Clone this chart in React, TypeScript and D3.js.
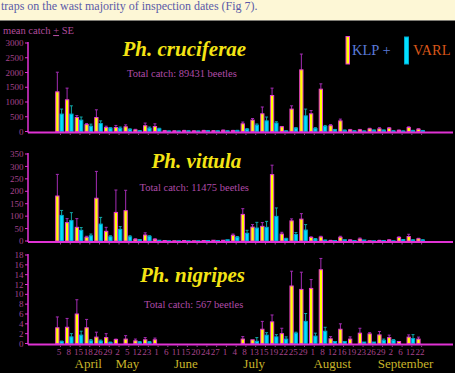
import React, { useRef, useEffect } from 'react';
import * as d3 from 'd3';

// inspection dates (category keys) and their tick labels
const dates = [
  'Apr 5', 'Apr 8', 'Apr 15', 'Apr 18', 'Apr 26', 'Apr 29',
  'May 2', 'May 5', 'May 12', 'May 23',
  'Jun 1', 'Jun 6', 'Jun 11', 'Jun 15', 'Jun 20', 'Jun 24', 'Jun 27',
  'Jul 1', 'Jul 4', 'Jul 8', 'Jul 13', 'Jul 15', 'Jul 19', 'Jul 22', 'Jul 25', 'Jul 29',
  'Aug 1', 'Aug 8', 'Aug 12', 'Aug 16', 'Aug 19', 'Aug 23', 'Aug 26', 'Aug 29',
  'Sep 2', 'Sep 6', 'Sep 12', 'Sep 22'
];
const dayLabels = dates.map(d => d.split(' ')[1]);

const months = ['April', 'May', 'June', 'July', 'August', 'September'];
const monthAnchors = [['Apr 18', 'Apr 18'], ['May 5', 'May 5'], ['Jun 15', 'Jun 15'], ['Jul 13', 'Jul 13'], ['Aug 12', 'Aug 12'], ['Sep 6', 'Sep 12']];

// Ph. cruciferae
const crucKlp = [1345, 1075, 475, 235, 475, 135, 135, 160, 55, 195, 170, 25, 20, 30, 20, 30, 25, 40, 30, 260, 385, 600, 1220, 160, 760, 2090, 600, 1435, 195, 360, 55, 55, 90, 90, 115, 40, 135, 80];
const crucKlpSe = [665, 395, 65, 35, 260, 45, 70, 65, 20, 90, 90, 10, 5, 10, 5, 10, 5, 10, 10, 60, 55, 230, 250, 10, 110, 535, 110, 180, 40, 60, 15, 15, 20, 40, 20, 10, 25, 15];
const crucVarl = [590, 590, 385, 180, 270, 115, 110, 75, 25, 110, 90, 15, 15, 20, 15, 25, 20, 20, 35, 80, 215, 360, 285, 20, 115, 530, 100, 170, 60, 40, 20, 15, 45, 45, 20, 15, 30, 30];
const crucVarlSe = [170, 280, 105, 70, 90, 15, 40, 15, 5, 40, 20, 5, 5, 5, 5, 5, 5, 5, 5, 15, 40, 130, 45, 5, 15, 230, 30, 35, 10, 10, 5, 5, 5, 5, 5, 5, 10, 5];

// Ph. vittula
const vittKlp = [181, 74, 55, 15, 172, 39, 115, 122, 7, 24, 7, 2, 1, 2, 1, 2, 3, 3, 23, 107, 56, 59, 267, 28, 81, 88, 14, 16, 2, 15, 4, 8, 1, 2, 4, 14, 18, 9];
const vittKlpSe = [87, 16, 35, 4, 108, 16, 90, 82, 2, 9, 2, 0, 0, 0, 0, 0, 0, 0, 5, 23, 10, 15, 38, 7, 8, 22, 3, 3, 1, 4, 1, 4, 0, 1, 1, 3, 9, 2];
const vittVarl = [103, 82, 43, 21, 68, 17, 47, 17, 5, 19, 3, 1, 1, 1, 1, 2, 2, 5, 15, 31, 52, 55, 99, 9, 26, 44, 8, 3, 2, 5, 2, 4, 1, 2, 1, 5, 4, 4];
const vittVarlSe = [20, 32, 11, 7, 27, 4, 11, 4, 1, 2, 0, 0, 0, 0, 0, 0, 0, 0, 3, 12, 23, 24, 34, 2, 8, 22, 2, 1, 0, 0, 0, 0, 0, 0, 0, 1, 1, 1];

// Ph. nigripes
const nigrKlp = [3.2, 3.3, 6.0, 3.2, 1.3, 1.2, 0.8, 0.9, 0.55, 0.75, 0.75, 0, 0, 0, 0, 0, 0, 0, 0, 0.9, 0.75, 2.9, 4.4, 2.0, 11.7, 11.0, 11.2, 15.0, 0.95, 2.9, 0.9, 2.1, 1.95, 1.75, 1.2, 0.4, 1.3, 0.9];
const nigrKlpSe = [2.2, 1.8, 2.9, 1.7, 1.0, 0.8, 0.1, 0.7, 0.35, 0.45, 0.35, 0, 0, 0, 0, 0, 0, 0, 0, 0.5, 0, 1.6, 1.4, 1.1, 3.0, 3.5, 1.8, 2.3, 0.45, 1.1, 0.45, 1.0, 0.25, 0.7, 0.5, 0, 0.45, 0.4];
const nigrVarl = [0.4, 1.35, 1.7, 0.55, 0.5, 0.2, 0, 0, 0.3, 0.3, 0, 0, 0, 0, 0, 0, 0, 0, 0, 0, 0.45, 1.7, 1.35, 0.9, 2.1, 4.5, 1.5, 2.5, 0.4, 0.4, 0, 0.3, 0.3, 0.65, 0.65, 0, 1.0, 0];
const nigrVarlSe = [0.1, 0.65, 0.8, 0.25, 0.2, 0.1, 0, 0, 0.1, 0.1, 0, 0, 0, 0, 0, 0, 0, 0, 0, 0, 0.75, 0.5, 0.45, 0.45, 0.2, 1.6, 0.6, 0.8, 0, 0, 0, 0, 0, 0.25, 0.15, 0, 0.8, 0];

const panels = [
  { title: 'Ph. cruciferae', total: 'Total catch: 89431 beetles', klp: crucKlp, klpSe: crucKlpSe, varl: crucVarl, varlSe: crucVarlSe, max: 3000, step: 500 },
  { title: 'Ph. vittula', total: 'Total catch: 11475 beetles', klp: vittKlp, klpSe: vittKlpSe, varl: vittVarl, varlSe: vittVarlSe, max: 350, step: 50 },
  { title: 'Ph. nigripes', total: 'Total catch: 567 beetles', klp: nigrKlp, klpSe: nigrKlpSe, varl: nigrVarl, varlSe: nigrVarlSe, max: 18, step: 2 }
];

// layout per panel
const layout = [
  { top: 43, bottom: 131.5, titleX: 122.5, titleY: 56, totalX: 127, totalY: 77 },
  { top: 154, bottom: 241, titleX: 151.5, titleY: 167.5, totalX: 139.5, totalY: 190.5 },
  { top: 255, bottom: 343.5, titleX: 140, titleY: 281.5, totalX: 144, totalY: 307.5 }
];

const FONT = "'Liberation Serif', 'Times New Roman', serif";
const AXIS = '#e032d4';
const TICK_TEXT = '#a8448c';

function App() {
  const svgRef = useRef(null);

  useEffect(() => {
    const svg = d3.select(svgRef.current);
    svg.selectAll('*').remove();

    const width = 455;
    const height = 373;

    svg.append('rect').attr('width', width).attr('height', 20.5).attr('fill', '#fdf7d6');
    svg.append('rect').attr('y', 20.5).attr('width', width).attr('height', height - 20.5).attr('fill', '#000');

    svg.append('text')
      .attr('x', 1).attr('y', 9.5)
      .attr('font-family', FONT).attr('font-size', 12)
      .attr('fill', '#5a5aa8')
      .text('traps on the wast majority of inspection dates (Fig 7).');

    const ylab = svg.append('text')
      .attr('x', 3).attr('y', 34)
      .attr('font-family', FONT).attr('font-size', 10.5)
      .attr('fill', '#b04c9c');
    ylab.append('tspan').text('mean catch ');
    ylab.append('tspan').attr('text-decoration', 'underline').text('+');
    ylab.append('tspan').text(' SE');

    const x = d3.scaleBand()
      .domain(dates)
      .range([54.6, 425.5])
      .paddingInner(0.12)
      .paddingOuter(0.06);

    const inner = d3.scaleBand()
      .domain(['klp', 'varl'])
      .range([0, x.bandwidth()]);

    const axisLeftX = 28;
    const axisRightX = 453;

    panels.forEach((p, pi) => {
      const L = layout[pi];
      const y = d3.scaleLinear().domain([0, p.max]).range([L.bottom, L.top]);
      const g = svg.append('g');

      // title + total
      g.append('text')
        .attr('x', L.titleX).attr('y', L.titleY)
        .attr('font-family', FONT).attr('font-size', 21)
        .attr('font-style', 'italic').attr('font-weight', 'bold')
        .attr('fill', '#f4e414')
        .text(p.title);
      g.append('text')
        .attr('x', L.totalX).attr('y', L.totalY)
        .attr('font-family', FONT).attr('font-size', 10.5)
        .attr('fill', '#b04ca8')
        .text(p.total);

      const series = [
        { key: 'klp', vals: p.klp, se: p.klpSe, fill: '#ffff00', stroke: '#e83ccc', err: '#a42cb4' },
        { key: 'varl', vals: p.varl, se: p.varlSe, fill: '#00e0ff', stroke: '#00a8cc', err: '#10a8a8' }
      ];

      series.forEach(s => {
        const bw = inner.bandwidth();
        // error bars
        const eg = g.append('g');
        dates.forEach((d, i) => {
          if (!s.se[i]) return;
          const cx = x(d) + inner(s.key) + bw / 2;
          eg.append('line')
            .attr('x1', cx).attr('x2', cx)
            .attr('y1', y(s.vals[i])).attr('y2', y(s.vals[i] + s.se[i]))
            .attr('stroke', s.err).attr('stroke-width', 1);
          eg.append('line')
            .attr('x1', cx - 1.5).attr('x2', cx + 1.5)
            .attr('y1', y(s.vals[i] + s.se[i])).attr('y2', y(s.vals[i] + s.se[i]))
            .attr('stroke', s.err).attr('stroke-width', 1);
        });

        g.append('g')
          .selectAll('rect')
          .data(dates.map((d, i) => ({ d, v: s.vals[i] })).filter(o => o.v > 0))
          .join('rect')
          .attr('x', o => x(o.d) + inner(s.key) + 0.5)
          .attr('y', o => y(o.v))
          .attr('width', bw - 1)
          .attr('height', o => L.bottom - y(o.v))
          .attr('fill', s.fill)
          .attr('stroke', s.stroke)
          .attr('stroke-width', 1);
      });

      // y axis
      g.append('line')
        .attr('x1', axisLeftX).attr('x2', axisLeftX)
        .attr('y1', y(p.max) - 1).attr('y2', L.bottom + 1)
        .attr('stroke', AXIS).attr('stroke-width', 1.5);
      const ticks = d3.range(0, p.max + p.step / 2, p.step);
      ticks.forEach(t => {
        g.append('line')
          .attr('x1', axisLeftX - 3).attr('x2', axisLeftX)
          .attr('y1', y(t)).attr('y2', y(t))
          .attr('stroke', AXIS).attr('stroke-width', 1);
        g.append('text')
          .attr('x', axisLeftX - 4.5).attr('y', y(t))
          .attr('dy', '0.35em')
          .attr('text-anchor', 'end')
          .attr('font-family', FONT).attr('font-size', 9)
          .attr('fill', TICK_TEXT)
          .text(t);
      });

      // x axis
      g.append('line')
        .attr('x1', axisLeftX).attr('x2', axisRightX)
        .attr('y1', L.bottom + 1).attr('y2', L.bottom + 1)
        .attr('stroke', AXIS).attr('stroke-width', 2);
      dates.forEach(d => {
        const cx = x(d) + x.bandwidth() / 2 + 1;
        g.append('line')
          .attr('x1', cx).attr('x2', cx)
          .attr('y1', L.bottom + 2).attr('y2', L.bottom + 3.5)
          .attr('stroke', '#9a3c9a').attr('stroke-width', 1);
      });
    });

    // date labels
    const lastBottom = layout[layout.length - 1].bottom;
    svg.append('g')
      .selectAll('text')
      .data(dates)
      .join('text')
      .attr('x', d => x(d) + x.bandwidth() / 2 - 0.5)
      .attr('y', lastBottom + 11.5)
      .attr('text-anchor', 'middle')
      .attr('font-family', FONT).attr('font-size', 9)
      .attr('fill', TICK_TEXT)
      .text((d, i) => dayLabels[i]);

    // months
    months.forEach((m, i) => {
      const [a, b] = monthAnchors[i];
      const mx = (x(a) + x(b)) / 2 + x.bandwidth() / 2 - 0.5;
      svg.append('text')
        .attr('x', mx).attr('y', lastBottom + 24.5)
        .attr('text-anchor', 'middle')
        .attr('font-family', FONT).attr('font-size', 13)
        .attr('fill', '#c8b42a')
        .text(m);
    });

    // legend
    svg.append('rect')
      .attr('x', 346).attr('y', 36.5).attr('width', 3.5).attr('height', 27.5)
      .attr('fill', '#ffff00').attr('stroke', '#e83ccc').attr('stroke-width', 1);
    svg.append('text')
      .attr('x', 352).attr('y', 54.5)
      .attr('font-family', FONT).attr('font-size', 14.5)
      .attr('fill', '#5a7ad8')
      .text('KLP +');
    svg.append('rect')
      .attr('x', 404.5).attr('y', 37).attr('width', 4).attr('height', 27)
      .attr('fill', '#00e0ff').attr('stroke', '#00a8cc').attr('stroke-width', 1);
    svg.append('text')
      .attr('x', 413).attr('y', 54.5)
      .attr('font-family', FONT).attr('font-size', 14.5)
      .attr('fill', '#d8561a')
      .text('VARL');
  }, []);

  return (
    <div style={{ position: 'absolute', left: 0, top: 0 }}>
      <svg ref={svgRef} width={455} height={373} style={{ display: 'block' }}></svg>
    </div>
  );
}

export default App;
